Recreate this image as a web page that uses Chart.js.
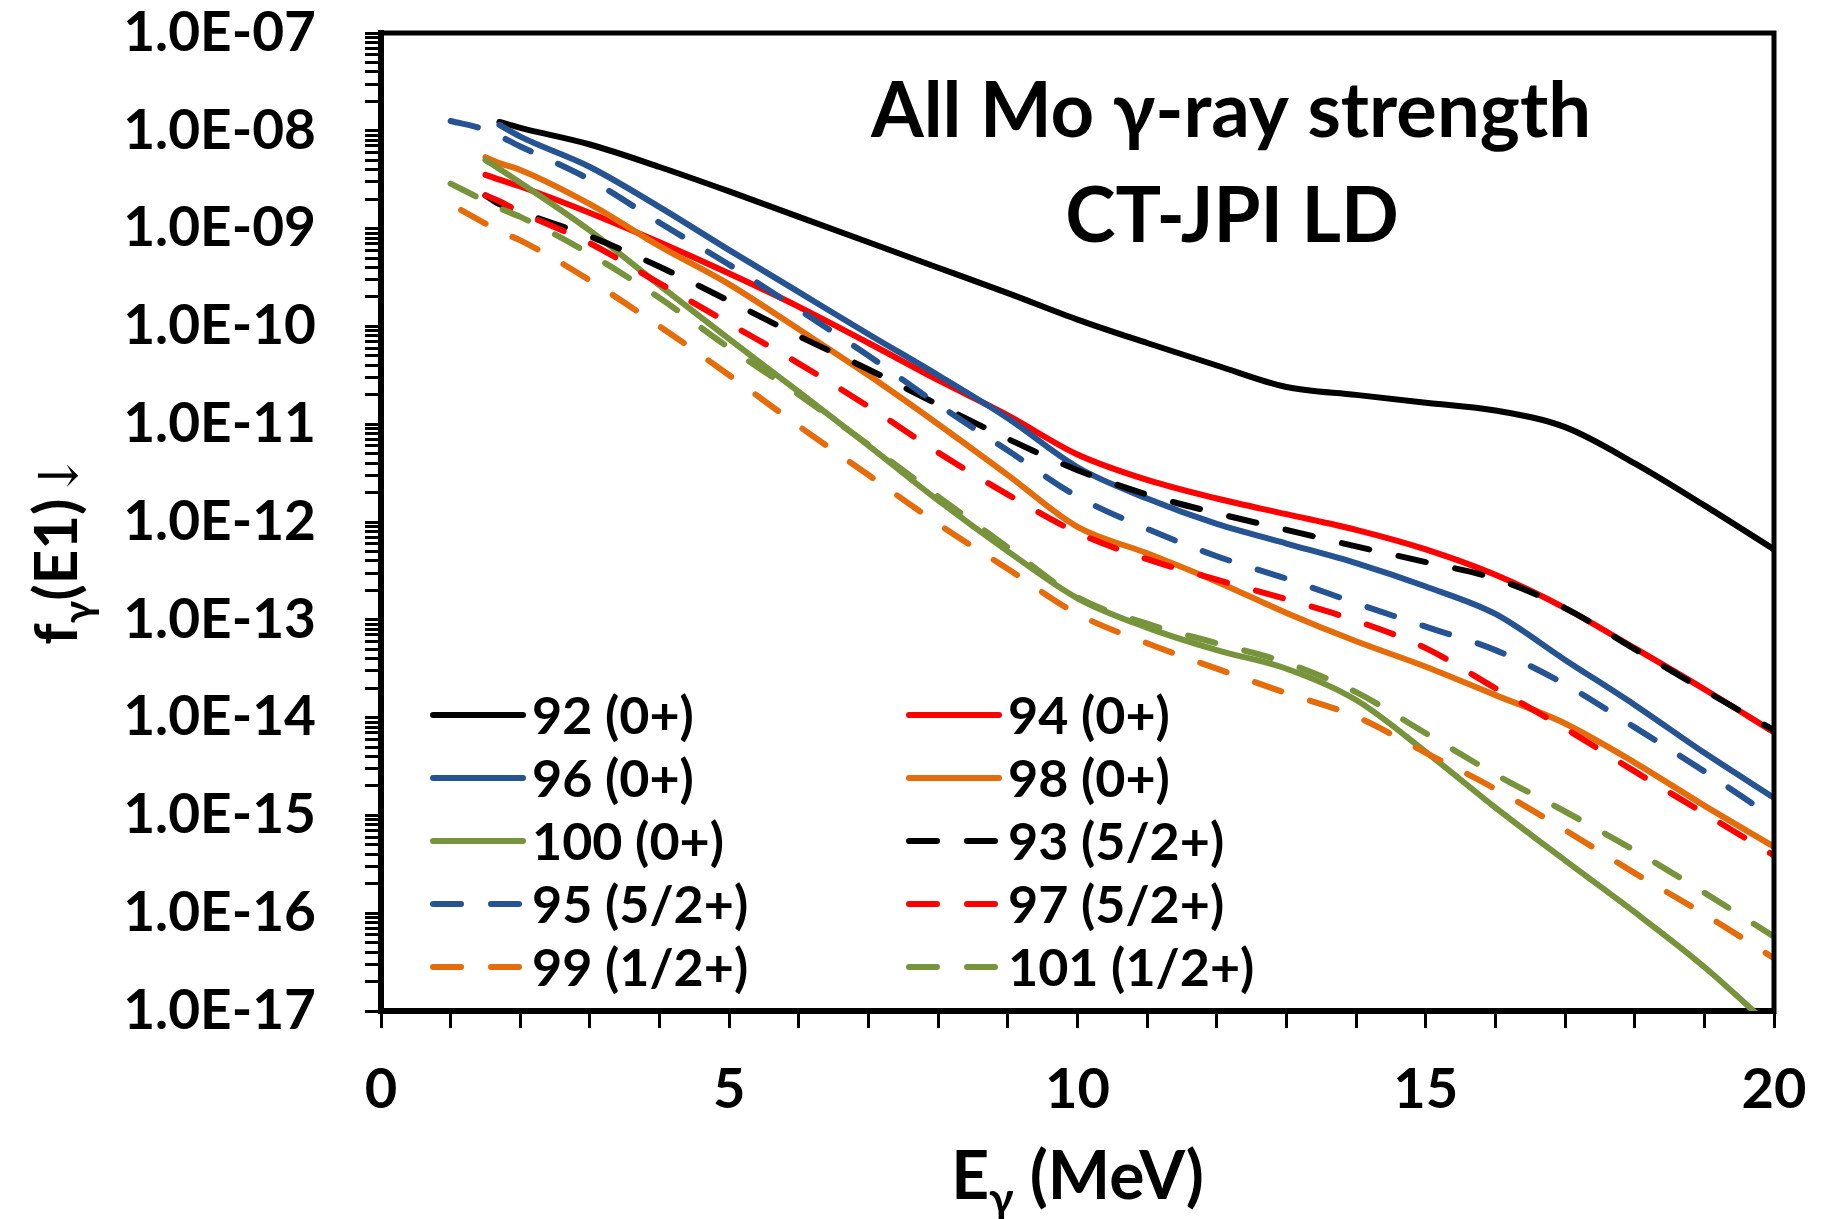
<!DOCTYPE html>
<html>
<head>
<meta charset="utf-8">
<title>All Mo gamma-ray strength</title>
<script src="https://cdn.jsdelivr.net/npm/chart.js@4.4.1/dist/chart.umd.min.js"></script>
<style>
    body { margin: 0; background: #ffffff; }
    canvas { display: block; }
</style>
</head>
<body>
<canvas id="myChart" width="1822" height="1219"></canvas>
<script>
// gamma energy grid (MeV), shared by all curves
const energy = [1, 1.15, 1.5, 1.7, 2, 3, 4, 5, 6, 7, 8, 9, 10, 11, 12, 13, 14, 15, 16, 17, 18, 19, 20];

// log10 of f(E1); null = curve not drawn there
const mo92 = [null, null, null, -7.91, -7.97, -8.14, -8.37, -8.62, -8.88, -9.14, -9.40, -9.66, -9.93, -10.17, -10.40, -10.62, -10.70, -10.78, -10.86, -11.03, -11.40, -11.83, -12.28];
const mo94 = [null, null, -8.45, -8.50, -8.57, -8.84, -9.14, -9.46, -9.80, -10.17, -10.55, -10.91, -11.31, -11.57, -11.76, -11.92, -12.08, -12.28, -12.54, -12.88, -13.29, -13.71, -14.15];
const mo96 = [null, null, null, -7.94, -8.06, -8.37, -8.78, -9.22, -9.65, -10.08, -10.50, -10.94, -11.44, -11.76, -12.02, -12.22, -12.42, -12.66, -12.94, -13.41, -13.87, -14.36, -14.82];
const mo98 = [null, null, -8.27, -8.33, -8.40, -8.75, -9.18, -9.57, -10.03, -10.50, -11.00, -11.52, -12.05, -12.32, -12.61, -12.93, -13.22, -13.48, -13.77, -14.06, -14.46, -14.90, -15.32];
const mo100 = [null, null, -8.30, -8.39, -8.53, -9.02, -9.58, -10.13, -10.67, -11.22, -11.78, -12.30, -12.78, -13.08, -13.31, -13.50, -13.82, -14.35, -14.92, -15.46, -15.99, -16.55, -17.19];
const mo93 = [null, null, -8.66, -8.75, -8.83, -9.08, -9.39, -9.74, -10.10, -10.44, -10.80, -11.15, -11.47, -11.72, -11.91, -12.08, -12.25, -12.41, -12.58, -12.88, -13.30, -13.72, -14.13];
const mo95 = [-7.90, null, -7.99, null, -8.16, -8.50, -8.94, -9.37, -9.83, -10.30, -10.80, -11.27, -11.74, -12.07, -12.35, -12.58, -12.83, -13.07, -13.31, -13.66, -14.10, -14.55, -15.03];
const mo97 = [null, null, -8.66, -8.72, -8.83, -9.15, -9.56, -9.97, -10.38, -10.82, -11.29, -11.72, -12.11, -12.38, -12.59, -12.79, -13.01, -13.29, -13.70, -14.11, -14.55, -14.98, -15.41];
const mo99 = [null, -8.81, -8.95, -9.03, -9.12, -9.53, -10.00, -10.50, -11.02, -11.52, -12.02, -12.48, -12.94, -13.24, -13.50, -13.75, -13.99, -14.36, -14.73, -15.15, -15.59, -16.01, -16.46];
const mo101 = [-8.54, null, -8.72, -8.79, -8.88, -9.26, -9.71, -10.22, -10.70, -11.21, -11.74, -12.26, -12.77, -13.04, -13.24, -13.44, -13.74, -14.16, -14.58, -14.96, -15.36, -15.79, -16.24];

// legend order
const seriesLabels = ["92 (0+)", "94 (0+)", "96 (0+)", "98 (0+)", "100 (0+)", "93 (5/2+)", "95 (5/2+)", "97 (5/2+)", "99 (1/2+)", "101 (1/2+)"];
const seriesValues = [mo92, mo94, mo96, mo98, mo100, mo93, mo95, mo97, mo99, mo101];
const seriesColors = ["#000000", "#ff0000", "#265391", "#e46c0a", "#77933c", "#000000", "#265391", "#ff0000", "#e46c0a", "#77933c"];
const seriesDashed = [false, false, false, false, false, true, true, true, true, true];

const titleLines = ["All Mo \u03b3-ray strength", "CT-JPI LD"];
const yDecades = [-17, -16, -15, -14, -13, -12, -11, -10, -9, -8, -7];
const xTickLabels = [0, 5, 10, 15, 20];

const FONT = 'Lato, "DejaVu Sans", sans-serif';
const DASH = [28, 30];

function toPoints(vals) {
    const pts = [];
    vals.forEach(function (v, i) {
        if (v !== null) pts.push({ x: energy[i], y: Math.pow(10, v) });
    });
    return pts;
}

const datasets = seriesValues.map(function (vals, i) {
    return {
        label: seriesLabels[i],
        data: toPoints(vals),
        borderColor: seriesColors[i],
        backgroundColor: seriesColors[i],
        borderWidth: 6,
        borderDash: seriesDashed[i] ? DASH : [],
        borderCapStyle: "round",
        borderJoinStyle: "round",
        pointRadius: 0,
        cubicInterpolationMode: "monotone",
        fill: false,
        order: seriesLabels.length - i, // later series on top
    };
});

// y ticks: 1..9 x 10^n in every decade
const yTicks = [];
yDecades.forEach(function (e) {
    for (let m = 1; m <= 9; m++) {
        if (e === -7 && m > 1) break;
        yTicks.push(m * Math.pow(10, e));
    }
});

function expLabel(v) {
    const e = Math.round(Math.log10(v));
    if (Math.abs(v / Math.pow(10, e) - 1) > 1e-6) return "";
    const n = String(Math.abs(e)).padStart(2, "0");
    return "1.0E" + (e < 0 ? "-" : "+") + n;
}

// draw pieces of text with a subscript, left to right
function drawParts(ctx, parts, x, y) {
    let total = 0;
    parts.forEach(function (p) {
        ctx.font = p.font;
        p.w = ctx.measureText(p.text).width;
        total += p.w;
    });
    let cx = x - total / 2;
    parts.forEach(function (p) {
        ctx.font = p.font;
        ctx.fillText(p.text, cx, y + (p.dy || 0));
        cx += p.w;
    });
}

const decor = {
    id: "decor",
    afterDraw(chart) {
        const ctx = chart.ctx;
        const a = chart.chartArea;
        ctx.save();

        // frame top and right
        ctx.strokeStyle = "#000";
        ctx.lineWidth = 5;
        ctx.beginPath();
        ctx.moveTo(a.left - 3, a.top);
        ctx.lineTo(a.right, a.top);
        ctx.lineTo(a.right, a.bottom + 3);
        ctx.stroke();

        // title inside the plot
        ctx.fillStyle = "#000";
        ctx.textAlign = "center";
        ctx.textBaseline = "alphabetic";
        ctx.font = "bold 76px " + FONT;
        ctx.fillText(titleLines[0], a.left + 850, a.top + 104);
        ctx.fillText(titleLines[1], a.left + 851, a.top + 209);

        // legend, two columns
        ctx.textAlign = "left";
        ctx.textBaseline = "middle";
        chart.data.datasets.forEach(function (ds, i) {
            const col = i % 2;
            const row = Math.floor(i / 2);
            const x0 = a.left + (col ? 525 : 49);
            const y = a.top + 682 + row * 63;
            ctx.strokeStyle = ds.borderColor;
            ctx.lineWidth = 6;
            ctx.lineCap = "round";
            ctx.setLineDash(ds.borderDash);
            ctx.beginPath();
            ctx.moveTo(x0 + 3, y);
            ctx.lineTo(x0 + 93, y);
            ctx.stroke();
            ctx.setLineDash([]);
            ctx.fillStyle = "#000";
            ctx.font = "bold 52px " + FONT;
            ctx.fillText(ds.label, x0 + 102, y + 2);
        });

        // x axis title: E_gamma (MeV)
        ctx.textAlign = "left";
        ctx.textBaseline = "alphabetic";
        drawParts(ctx, [
            { text: "E", font: "bold 66px " + FONT },
            { text: "\u03b3", font: "bold 44px " + FONT, dy: 15 },
            { text: " (MeV)", font: "bold 66px " + FONT },
        ], (a.left + a.right) / 2, 1199);

        // y axis title: f_gamma(E1)↓, rotated
        ctx.translate(77, 549);
        ctx.rotate(-Math.PI / 2);
        drawParts(ctx, [
            { text: "f", font: "bold 60px " + FONT },
            { text: "\u03b3", font: "bold 40px " + FONT, dy: 15 },
            { text: "(E1)", font: "bold 60px " + FONT },
            { text: "\u2193", font: "54px \"DejaVu Serif\", serif" },
        ], 0, 0);

        ctx.restore();
    },
};

const ctx = document.getElementById("myChart").getContext("2d");
const myChart = new Chart(ctx, {
    type: "line",
    data: { datasets: datasets },
    options: {
        responsive: false,
        animation: false,
        devicePixelRatio: 1,
        spanGaps: true,
        layout: { padding: { left: 0, right: 48, top: 33, bottom: 0 } },
        plugins: {
            legend: { display: false },
            tooltip: { enabled: false },
            title: { display: false },
        },
        scales: {
            x: {
                type: "linear",
                min: 0,
                max: 20,
                afterFit(scale) {
                    scale.height = 208;
                    scale.paddingLeft = 0;
                    scale.paddingRight = 0;
                },
                ticks: {
                    stepSize: 1,
                    autoSkip: false,
                    maxRotation: 0,
                    padding: 28,
                    color: "#000",
                    font: { family: FONT, size: 56, weight: "bold" },
                    callback: function (v) {
                        return xTickLabels.indexOf(v) >= 0 ? String(v) : "";
                    },
                },
                grid: { drawOnChartArea: false, tickLength: 17, tickWidth: 3, tickColor: "#000" },
                border: { display: true, width: 6, color: "#000" },
            },
            y: {
                type: "logarithmic",
                min: 1e-17,
                max: 1e-7,
                afterFit(scale) {
                    scale.width = 381;
                    scale.paddingTop = 0;
                    scale.paddingBottom = 0;
                },
                afterBuildTicks(scale) {
                    scale.ticks = yTicks.map(function (v) { return { value: v }; });
                },
                ticks: {
                    autoSkip: false,
                    padding: 49,
                    color: "#000",
                    font: { family: FONT, size: 55, weight: "bold" },
                    callback: function (v) { return expLabel(v); },
                },
                grid: { drawOnChartArea: false, tickLength: 16, tickWidth: 3, tickColor: "#000" },
                border: { display: true, width: 6, color: "#000" },
            },
        },
    },
    plugins: [decor],
});
</script>
</body>
</html>
